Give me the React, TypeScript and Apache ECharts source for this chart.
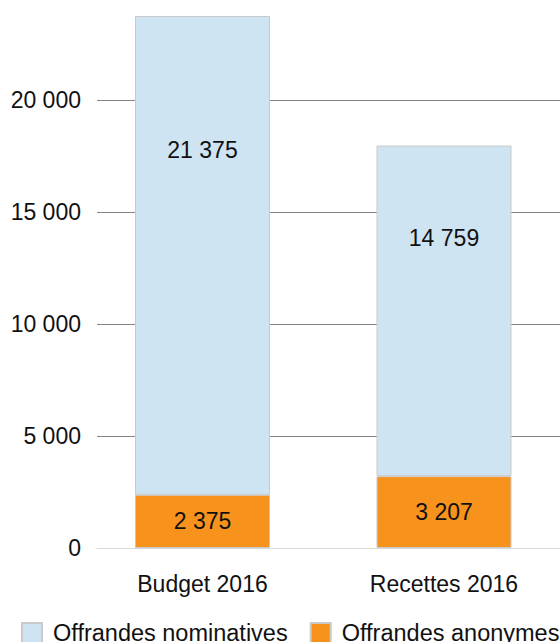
import React, { useEffect, useRef } from "react";
import * as echarts from "echarts";

const categories = ["Budget 2016", "Recettes 2016"];
const anonymes = [2375, 3207];
const nominatives = [21375, 14759];
const seriesNames = ["Offrandes nominatives", "Offrandes anonymes"];

const FONT = "'Liberation Sans', Arial, sans-serif";
const fmt = (v: number) => String(v).replace(/\B(?=(\d{3})+(?!\d))/g, " ");

const Y_MIN = 0;
const Y_MAX = 24464;
const Y_STEP = 5000;

export default function App() {
  const ref = useRef<HTMLDivElement>(null);
  useEffect(() => {
    if (!ref.current) return;
    const chart = echarts.init(ref.current, undefined, { renderer: "svg" });
    chart.setOption({
      animation: false,
      textStyle: { fontFamily: FONT },
      grid: [
        { left: 81.75, top: 0, bottom: 94, width: 483, containLabel: false },
        { left: 97, top: 0, bottom: 94, width: 510, containLabel: false },
      ],
      xAxis: [
        {
          type: "category",
          gridIndex: 0,
          data: categories,
          axisTick: { show: false },
          axisLine: { show: false },
          axisLabel: { fontSize: 23, color: "#111", fontFamily: FONT, margin: 24 },
        },
        {
          type: "value",
          gridIndex: 1,
          min: 0,
          max: 1,
          axisTick: { show: false },
          axisLabel: { show: false },
          splitLine: { show: false },
          axisLine: { show: true, lineStyle: { color: "#d9d9d9", width: 1 } },
          z: 0,
        },
      ],
      yAxis: [
        {
          type: "value",
          gridIndex: 0,
          min: Y_MIN,
          max: Y_MAX,
          interval: Y_STEP,
          show: false,
          splitLine: { show: false },
        },
        {
          type: "value",
          gridIndex: 1,
          min: Y_MIN,
          max: Y_MAX,
          interval: Y_STEP,
          axisLine: { show: false },
          axisTick: { show: false },
          axisLabel: {
            showMaxLabel: false,
            formatter: (v: number) => (v % Y_STEP === 0 ? fmt(v) : ""),
            fontSize: 23,
            color: "#111",
            fontFamily: FONT,
            margin: 16,
          },
          splitLine: {
            show: true,
            showMinLine: false,
            showMaxLine: false,
            lineStyle: { color: "#858585", width: 1 },
          },
        },
      ],
      legend: {
        left: 21,
        top: 621,
        padding: 0,
        itemWidth: 20,
        itemHeight: 20,
        itemGap: 22,
        icon: "rect",
        data: seriesNames,
        textStyle: { fontSize: 23.5, color: "#111", fontFamily: FONT, padding: [0, 0, 0, 6] },
      },
      series: [
        {
          name: seriesNames[1],
          type: "bar",
          stack: "total",
          xAxisIndex: 0,
          yAxisIndex: 0,
          barWidth: 135,
          data: anonymes,
          itemStyle: { color: "#f7931c", borderColor: "#c9c9c9", borderWidth: 1 },
          label: {
            show: true,
            position: "inside",
            formatter: (p: any) => fmt(p.value),
            fontSize: 23,
            color: "#111",
            fontFamily: FONT,
          },
        },
        {
          name: seriesNames[0],
          type: "bar",
          stack: "total",
          xAxisIndex: 0,
          yAxisIndex: 0,
          barWidth: 135,
          data: nominatives,
          itemStyle: { color: "#cfe4f2", borderColor: "#c9c9c9", borderWidth: 1 },
          label: {
            show: true,
            position: ["50%", "28%"],
            align: "center",
            verticalAlign: "middle",
            formatter: (p: any) => fmt(p.value),
            fontSize: 23,
            color: "#111",
            fontFamily: FONT,
          },
        },
      ],
    });
    return () => chart.dispose();
  }, []);
  return (
    <div style={{ position: "fixed", left: 0, top: 0, width: 560, height: 642, overflow: "hidden", background: "#fff" }}>
      <div ref={ref} style={{ width: 620, height: 642 }} />
    </div>
  );
}
